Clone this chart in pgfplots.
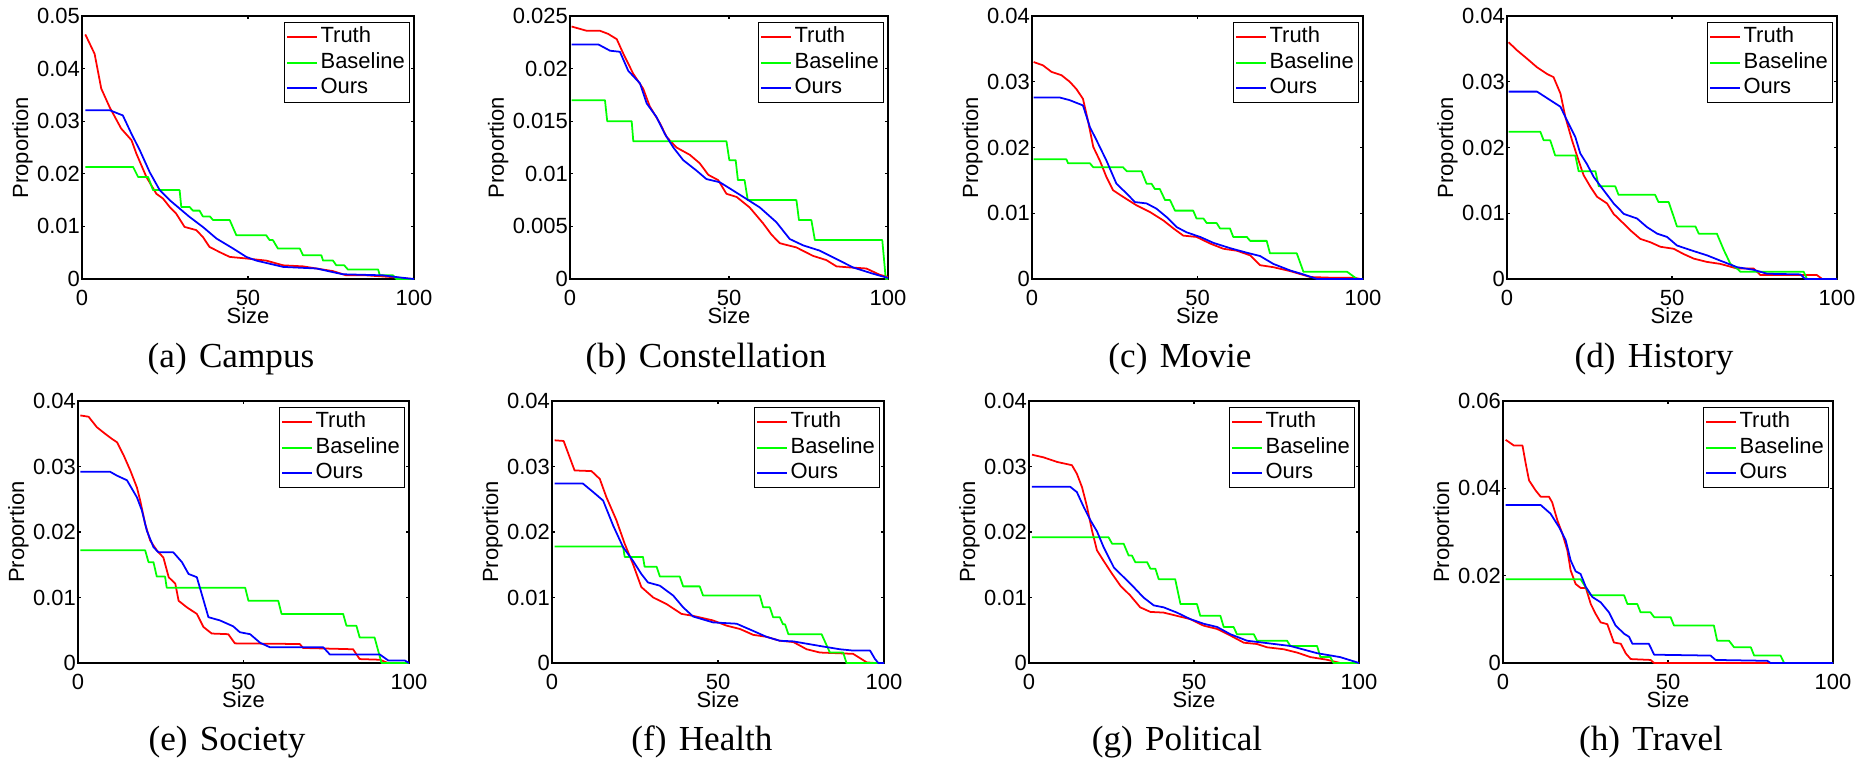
\documentclass[border=0pt]{standalone}
\usepackage{fontspec}
\setmainfont{Liberation Serif}
\newfontfamily\arial{Liberation Sans}
\usepackage{pgfplots}
\pgfplotsset{compat=1.18}

\definecolor{mred}{rgb}{1,0,0}
\definecolor{mgreen}{rgb}{0,1,0}
\definecolor{mblue}{rgb}{0,0,1}

% 1 px of the reference = 0.02cm
\pgfplotsset{
  panel/.style={
    scale only axis, anchor=north west,
    xmin=0, xmax=100, ymin=0,
    xtick={0,50,100},
    tick align=inside, major tick length=1.8pt,
    axis line style={line width=0.8pt},
    every tick/.append style={line width=0.6pt, black},
    tick label style={font=\arial\fontsize{12.5}{14}\selectfont},
    label style={font=\arial\fontsize{12.5}{14}\selectfont},
    /pgf/number format/assume math mode=true,
    scaled y ticks=false,
    yticklabel style={/pgf/number format/fixed, /pgf/number format/precision=3, inner xsep=1pt},
    xticklabel style={anchor=base, yshift=-0.52cm},
    xlabel={Size}, ylabel={Proportion},
    xlabel style={at={(axis description cs:0.5,0)}, anchor=base, yshift=-0.88cm},
    ylabel style={xshift=0pt, yshift=-2pt},
    no markers,
    legend cell align=left,
    legend style={at={(1,1)}, anchor=north east, xshift=-2.3pt, yshift=-3.4pt,
      draw=black, line width=0.8pt, inner xsep=1pt, inner ysep=1pt,
      nodes={inner sep=1.5pt, text height=9pt, text depth=2.5pt},
      font=\arial\fontsize{12.5}{14}\selectfont},
    every axis plot/.append style={line width=1pt, line join=round},
  },
}

\begin{document}
\begin{tikzpicture}
\path[use as bounding box] (0,0) rectangle (37.28,-15.14);

% (a) Campus
\begin{axis}[panel, at={(1.64cm,-0.32cm)}, width=6.64cm, height=5.26cm,
  ymax=0.05, ytick={0,0.01,0.02,0.03,0.04,0.05}]
\addplot[mred] coordinates {(1,.0465)(3.8,.0428)(5.8,.0362)(8.3,.0327)(11.8,.0286)(14.9,.0264)(16.4,.0238)(19.4,.0194)(22.4,.0162)(24.4,.0153)(26.4,.0137)(28.4,.0124)(30.9,.0099)(34.4,.0093)(36.4,.0080)(38.4,.0061)(41.5,.0051)(44.5,.0042)(49.5,.0039)(55.5,.0035)(60.6,.0026)(66.6,.0024)(75.6,.0015)(79.6,.0007)(85.6,.0007)(92.6,.0004)(99.3,0)(100,0)};
\addplot[mgreen] coordinates {(1,.0213)(15.4,.0213)(16.9,.0194)(19.9,.0194)(21.4,.0169)(29.4,.0169)(29.9,.0137)(32.4,.0137)(33.4,.0130)(35.4,.0130)(36.4,.0119)(38.5,.0119)(39.5,.0112)(44.5,.0112)(46.5,.0083)(55.5,.0083)(56.5,.0074)(57.5,.0074)(59,.0058)(65.6,.0058)(66.6,.0045)(72.1,.0045)(72.6,.0035)(75.6,.0035)(76.6,.0026)(79,.0026)(80.1,.0018)(89.2,.0018)(89.7,.0007)(93.7,.0007)(94.7,0)(100,0)};
\addplot[mblue] coordinates {(1,.0321)(8.3,.0321)(12.3,.0311)(14.9,.0276)(17.4,.0245)(20.4,.0203)(23.4,.0169)(26.4,.0150)(29.4,.0134)(32.4,.0118)(36.4,.0099)(40.5,.0077)(45.5,.0058)(49.5,.0042)(52.5,.0035)(60.6,.0023)(70.6,.0020)(75.6,.0013)(78.6,.0009)(90.6,.0007)(95.6,.0003)(100,0)};
\legend{Truth, Baseline, Ours}
\end{axis}

% (b) Constellation
\begin{axis}[panel, at={(11.40cm,-0.32cm)}, width=6.36cm, height=5.26cm,
  ymax=0.025, ytick={0,0.005,0.01,0.015,0.02,0.025}]
\addplot[mred] coordinates {(0.5,.0240)(5.2,.0236)(9.4,.0236)(12.0,.0233)(14.7,.0228)(16.8,.0214)(19.9,.0195)(23.0,.0181)(25.1,.0164)(28.3,.0148)(30.4,.0135)(33.5,.0125)(37.7,.0118)(40.8,.0110)(43.5,.0099)(46.6,.0094)(49.2,.0081)(52.4,.0078)(56.5,.0068)(60.7,.0053)(63.4,.0042)(66.0,.0034)(71.2,.0030)(76.4,.0022)(80.6,.0018)(83.8,.0012)(88.0,.0011)(93.2,.0010)(97.4,.0004)(100,.0002)};
\addplot[mgreen] coordinates {(0.5,.0170)(11.0,.0170)(11.7,.0150)(19.4,.0150)(19.9,.0131)(49.2,.0131)(50.1,.0113)(52.1,.0113)(52.8,.0094)(54.9,.0094)(55.9,.0075)(71.2,.0075)(72.0,.0056)(75.9,.0056)(77.0,.0037)(98.2,.0037)(99.3,0)(100,0)};
\addplot[mblue] coordinates {(0.5,.0223)(8.9,.0223)(12.6,.0217)(15.7,.0216)(18.3,.0198)(22.0,.0186)(24.1,.0167)(27.2,.0154)(29.8,.0138)(32.5,.0125)(35.6,.0113)(39.8,.0103)(42.9,.0095)(47.1,.0092)(50.3,.0086)(54.5,.0078)(59.7,.0068)(64.9,.0054)(69.1,.0038)(73.3,.0032)(78.5,.0027)(83.8,.0019)(89.0,.0011)(95.3,.0005)(100,.0001)};
\legend{Truth, Baseline, Ours}
\end{axis}

% (c) Movie
\begin{axis}[panel, at={(20.64cm,-0.32cm)}, width=6.62cm, height=5.26cm,
  ymax=0.04, ytick={0,0.01,0.02,0.03,0.04}]
\addplot[mred] coordinates {(0.5,.0330)(3.3,.0325)(5.9,.0315)(8.9,.0310)(11.4,.0300)(13.4,.0289)(15.4,.0274)(16.9,.0241)(18.5,.0201)(20.5,.0180)(22.5,.0155)(24.5,.0135)(27.5,.0125)(31.6,.0112)(35.6,.0102)(39.7,.0089)(42.7,.0077)(45.7,.0066)(49.7,.0064)(53.8,.0054)(57.8,.0046)(61.9,.0043)(65.9,.0036)(68.9,.0021)(72.9,.0018)(78.0,.0012)(84.1,.0003)(90.1,.0002)(97.2,.0002)(99.2,0)(100,0)};
\addplot[mgreen] coordinates {(0.5,.0182)(10.4,.0182)(10.9,.0176)(17.5,.0176)(18.5,.0170)(27.5,.0170)(28.6,.0164)(33.1,.0164)(34.6,.0145)(36.1,.0145)(37.1,.0137)(38.6,.0137)(40.2,.0120)(41.7,.0120)(43.2,.0104)(48.7,.0104)(49.7,.0092)(51.8,.0092)(52.8,.0085)(55.8,.0085)(56.8,.0077)(59.8,.0077)(60.8,.0064)(64.9,.0064)(65.9,.0058)(70.9,.0058)(71.9,.0039)(80.0,.0039)(82.0,.0011)(95.2,.0011)(98.2,0)(100,0)};
\addplot[mblue] coordinates {(0.5,.0276)(8.4,.0276)(11.4,.0272)(15.4,.0264)(17.5,.0231)(19.5,.0211)(22.5,.0180)(25.5,.0145)(28.6,.0130)(31.1,.0117)(34.6,.0115)(37.6,.0107)(40.7,.0094)(43.7,.0079)(46.7,.0071)(50.8,.0064)(54.8,.0055)(59.8,.0047)(64.9,.0040)(68.9,.0035)(72.9,.0023)(78.0,.0013)(82.0,.0007)(86.1,0)(100,0)};
\legend{Truth, Baseline, Ours}
\end{axis}

% (d) History
\begin{axis}[panel, at={(30.14cm,-0.32cm)}, width=6.60cm, height=5.26cm,
  ymax=0.04, ytick={0,0.01,0.02,0.03,0.04}]
\addplot[mred] coordinates {(0.5,.0360)(3.0,.0348)(6.1,.0335)(9.1,.0322)(12.1,.0312)(14.1,.0307)(16.2,.0282)(17.7,.0246)(19.7,.0211)(21.7,.0180)(23.2,.0158)(25.3,.0140)(27.3,.0125)(30.3,.0115)(32.3,.0099)(35.4,.0084)(37.4,.0074)(40.4,.0061)(43.4,.0056)(46.5,.0049)(50.5,.0046)(53.5,.0038)(56.6,.0031)(60.6,.0026)(64.6,.0023)(69.7,.0016)(74.7,.0016)(76.8,.0006)(84.8,.0006)(93.9,.0006)(95.5,0)(100,0)};
\addplot[mgreen] coordinates {(0.5,.0224)(10.1,.0224)(11.1,.0211)(13.1,.0211)(14.6,.0188)(20.7,.0188)(21.7,.0164)(26.8,.0164)(27.8,.0141)(32.8,.0141)(33.8,.0128)(44.9,.0128)(45.9,.0117)(49.0,.0117)(51.5,.0080)(57.1,.0080)(58.1,.0069)(63.6,.0069)(65.7,.0044)(67.7,.0023)(69.7,.0016)(70.7,.0011)(89.9,.0011)(90.9,0)(100,0)};
\addplot[mblue] coordinates {(0.5,.0285)(9.1,.0285)(13.1,.0272)(16.2,.0262)(18.2,.0241)(20.7,.0216)(22.2,.0191)(24.2,.0175)(26.3,.0155)(29.3,.0135)(32.3,.0115)(35.4,.0099)(39.4,.0092)(42.4,.0079)(45.5,.0069)(48.5,.0064)(51.5,.0051)(55.6,.0044)(60.6,.0036)(64.6,.0028)(69.7,.0018)(74.7,.0014)(78.8,.0008)(88.9,.0007)(90.4,0)(100,0)};
\legend{Truth, Baseline, Ours}
\end{axis}

% (e) Society
\begin{axis}[panel, at={(1.56cm,-8.02cm)}, width=6.62cm, height=5.24cm,
  ymax=0.04, ytick={0,0.01,0.02,0.03,0.04}]
\addplot[mred] coordinates {(0.7,.0378)(3.2,.0376)(5.7,.0360)(8.2,.0350)(10.3,.0342)(11.8,.0337)(13.8,.0317)(15.8,.0294)(17.8,.0268)(18.8,.0248)(20.3,.0212)(21.8,.0187)(23.8,.0172)(25.8,.0161)(27.4,.0131)(29.4,.0121)(30.4,.0095)(32.9,.0085)(35.9,.0075)(37.9,.0055)(40.4,.0045)(45.4,.0044)(47.4,.0030)(67,.0029)(68,.0023)(83.1,.0021)(85.1,.0006)(91.2,.0005)(93.7,0)(100,0)};
\addplot[mgreen] coordinates {(0.7,.0172)(20.3,.0172)(21.3,.0154)(22.8,.0154)(23.8,.0132)(26.3,.0132)(26.8,.0115)(50.5,.0115)(51.5,.0095)(60.5,.0095)(61.5,.0075)(80.1,.0075)(81.1,.0057)(84.1,.0057)(85.1,.0039)(89.6,.0039)(91.7,0)(100,0)};
\addplot[mblue] coordinates {(0.7,.0292)(9.7,.0292)(11.8,.0286)(14.8,.0279)(17.8,.0253)(19.3,.0233)(20.8,.0202)(22.8,.0177)(24.3,.0169)(28.8,.0169)(31.4,.0154)(33.4,.0136)(35.9,.0131)(37.4,.0105)(39.4,.0070)(42.9,.0065)(46.9,.0056)(48.9,.0047)(52,.0044)(55,.0031)(58,.0024)(74.1,.0024)(76.1,.0013)(91.2,.0013)(93.7,.0004)(98.7,.0004)(100,0)};
\legend{Truth, Baseline, Ours}
\end{axis}

% (f) Health
\begin{axis}[panel, at={(11.04cm,-8.02cm)}, width=6.64cm, height=5.24cm,
  ymax=0.04, ytick={0,0.01,0.02,0.03,0.04}]
\addplot[mred] coordinates {(0.8,.0340)(3.5,.0339)(6.8,.0294)(11.9,.0293)(14.4,.0281)(16.4,.0253)(19.4,.0218)(21.9,.0182)(24.4,.0151)(26.9,.0116)(30.5,.0100)(34.5,.0090)(39.0,.0075)(42.5,.0072)(48.5,.0065)(52.6,.0057)(56.6,.0052)(60.6,.0043)(64.6,.0040)(68.6,.0034)(72.7,.0032)(76.7,.0021)(80.7,.0016)(85.7,.0015)(90.7,.0014)(94.8,.0001)(97.3,0)(100,0)};
\addplot[mgreen] coordinates {(0.8,.0178)(21.4,.0178)(21.9,.0162)(27.4,.0162)(27.9,.0147)(31.5,.0147)(32.5,.0132)(38.5,.0132)(39.5,.0117)(44.5,.0117)(45.5,.0103)(62.6,.0103)(63.6,.0085)(65.6,.0085)(66.6,.0070)(68.6,.0070)(69.6,.0059)(70.2,.0059)(71.2,.0044)(81.2,.0044)(83.7,.0016)(87.7,.0016)(88.7,0)(100,0)};
\addplot[mblue] coordinates {(0.8,.0274)(9.3,.0274)(12.4,.0261)(15.4,.0248)(18.4,.0210)(21.4,.0177)(24.4,.0156)(26.9,.0136)(28.9,.0123)(32.5,.0118)(36.5,.0103)(39.5,.0085)(42.5,.0071)(48.5,.0062)(55.6,.0060)(60.6,.0049)(64.6,.0040)(68.6,.0034)(72.7,.0033)(80.7,.0026)(86.7,.0021)(90.7,.0019)(95.8,.0019)(97.3,.0006)(98.3,0)(100,0)};
\legend{Truth, Baseline, Ours}
\end{axis}

% (g) Political
\begin{axis}[panel, at={(20.58cm,-8.02cm)}, width=6.60cm, height=5.24cm,
  ymax=0.04, ytick={0,0.01,0.02,0.03,0.04}]
\addplot[mred] coordinates {(0.9,.0318)(4.4,.0314)(8.5,.0307)(13.0,.0302)(14.5,.0289)(16.1,.0268)(17.6,.0238)(19.1,.0202)(20.6,.0172)(22.6,.0156)(25.2,.0136)(27.7,.0118)(30.7,.0103)(33.7,.0085)(36.8,.0078)(40.8,.0077)(44.8,.0072)(48.9,.0067)(52.9,.0057)(57.0,.0052)(61.0,.0042)(65.1,.0031)(69.1,.0029)(72.1,.0024)(77.2,.0021)(81.2,.0016)(85.3,.0009)(90.3,.0005)(94.3,0)(100,0)};
\addplot[mgreen] coordinates {(0.9,.0192)(24.1,.0192)(25.2,.0182)(28.7,.0182)(30.2,.0164)(31.2,.0164)(32.2,.0154)(35.8,.0154)(36.8,.0144)(38.3,.0144)(39.3,.0128)(44.3,.0128)(45.9,.0090)(50.9,.0090)(51.9,.0072)(58.0,.0072)(59,.0055)(62,.0055)(63,.0044)(68.1,.0044)(69.1,.0034)(78.2,.0034)(79.2,.0026)(87.3,.0026)(88.3,.0009)(91.3,.0009)(92.3,0)(100,0)};
\addplot[mblue] coordinates {(0.9,.0269)(12.5,.0269)(14.5,.0261)(16.6,.0238)(18.6,.0218)(20.6,.0201)(22.6,.0177)(25.7,.0146)(28.7,.0131)(31.7,.0116)(34.7,.0100)(37.8,.0088)(40.8,.0085)(44.8,.0077)(48.9,.0067)(52.9,.0060)(57.0,.0055)(61.0,.0044)(66.1,.0034)(71.1,.0031)(79.2,.0026)(87.3,.0015)(94.3,.0009)(99.4,.0001)(100,0)};
\legend{Truth, Baseline, Ours}
\end{axis}

% (h) Travel
\begin{axis}[panel, at={(30.06cm,-8.02cm)}, width=6.60cm, height=5.24cm,
  ymax=0.06, ytick={0,0.02,0.04,0.06}]
\addplot[mred] coordinates {(0.8,.0511)(1.8,.0506)(3.3,.0498)(5.9,.0498)(6.9,.0456)(7.9,.0418)(9.9,.0395)(11.4,.0381)(13.9,.0381)(14.9,.0368)(16.5,.0326)(18.0,.0296)(19.5,.0258)(20.5,.0212)(22.0,.0181)(23.5,.0172)(25.1,.0172)(26.6,.0135)(28.1,.0112)(29.6,.0093)(31.6,.0089)(33.6,.0047)(35.7,.0044)(37.2,.0022)(38.7,.0009)(44.7,.0007)(45.8,0)(100,0)};
\addplot[mgreen] coordinates {(0.8,.0192)(23.5,.0192)(26.6,.0155)(36.7,.0155)(37.7,.0135)(40.7,.0135)(41.7,.0116)(44.7,.0116)(45.8,.0105)(50.8,.0105)(51.8,.0086)(63.9,.0086)(64.9,.0051)(68.5,.0051)(70.0,.0036)(75.1,.0036)(76.1,.0017)(84.1,.0017)(85.2,0)(100,0)};
\addplot[mblue] coordinates {(0.8,.0362)(11.4,.0362)(14.4,.0342)(17.0,.0311)(19.0,.0281)(20.5,.0235)(22.0,.0210)(23.5,.0204)(25.1,.0174)(27.1,.0151)(29.6,.0139)(32.1,.0116)(34.1,.0086)(36.7,.0067)(38.2,.0060)(39.2,.0044)(44.2,.0044)(45.8,.0019)(62.9,.0017)(64.4,.0007)(80.1,.0005)(81.1,0)(100,0)};
\legend{Truth, Baseline, Ours}
\end{axis}

% captions
\begin{scope}[every node/.style={font=\fontsize{20}{22}\selectfont, anchor=base}]
\node at (4.62,-7.34) {(a)\hspace{0.35em}Campus};
\node at (14.12,-7.34) {(b)\hspace{0.35em}Constellation};
\node at (23.60,-7.34) {(c)\hspace{0.35em}Movie};
\node at (33.08,-7.34) {(d)\hspace{0.35em}History};
\node at (4.54,-15.00) {(e)\hspace{0.35em}Society};
\node at (14.04,-15.00) {(f)\hspace{0.35em}Health};
\node at (23.54,-15.00) {(g)\hspace{0.35em}Political};
\node at (33.02,-15.00) {(h)\hspace{0.35em}Travel};
\end{scope}
\end{tikzpicture}
\end{document}
